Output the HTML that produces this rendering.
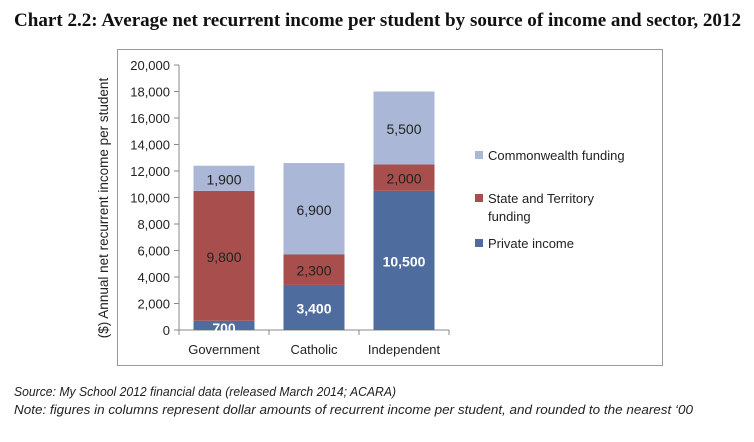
<!DOCTYPE html>
<html><head><meta charset="utf-8"><style>
body{margin:0;width:754px;height:437px;background:#fff;overflow:hidden;font-family:"Liberation Sans",sans-serif}
</style></head><body>
<svg width="754" height="437" font-family="Liberation Sans, sans-serif">
<text x="14" y="26" font-family="Liberation Serif, serif" font-weight="bold" font-size="18.5" textLength="727" lengthAdjust="spacingAndGlyphs" fill="#111">Chart 2.2: Average net recurrent income per student by source of income and sector, 2012</text>
<rect x="117.5" y="49.5" width="545" height="316" fill="none" stroke="#999"/>
<text transform="translate(108,208) rotate(-90)" text-anchor="middle" font-size="13.5" fill="#222">($) Annual net recurrent income per student</text>
<g id="plot"></g>
<text x="14" y="396" font-style="italic" font-size="12.5" textLength="382" lengthAdjust="spacingAndGlyphs" fill="#222">Source: My School 2012 financial data (released March 2014; ACARA)</text>
<text x="14" y="414" font-style="italic" font-size="13" textLength="679" lengthAdjust="spacingAndGlyphs" fill="#222">Note: figures in columns represent dollar amounts of recurrent income per student, and rounded to the nearest ‘00</text>
</svg>
<script>
const categories=["Government","Catholic","Independent"];
const privateIncome=[700,3400,10500];
const stateFunding=[9800,2300,2000];
const commonwealth=[1900,6900,5500];
const yTicks=[0,2000,4000,6000,8000,10000,12000,14000,16000,18000,20000];
const seriesNames=["Commonwealth funding","State and Territory funding","Private income"];
const NS="http://www.w3.org/2000/svg";
const g=document.getElementById('plot');
const x0=179,y0=330,yTop=65,bandW=90,barW=61;
function y(v){return y0-(v/20000)*(y0-yTop);}
function bx(i){return x0+bandW*i+bandW/2;}
function el(t,a,p){const e=document.createElementNS(NS,t);for(const k in a)e.setAttribute(k,a[k]);(p||g).appendChild(e);return e;}
const ax=el('line',{x1:x0,y1:yTop,x2:x0,y2:y0,stroke:'#888'});


yTicks.forEach(v=>{
  const tk=el('line',{x1:x0-5,x2:x0,y1:y(v),y2:y(v),stroke:'#888'});
  
  
  const t=el('text',{x:x0-9,y:y(v)+5,'text-anchor':'end','font-size':13,fill:'#222'});
  t.textContent=v.toLocaleString('en-US');
  
  
});
const xa=el('line',{x1:x0,y1:y0,x2:x0+bandW*categories.length,y2:y0,stroke:'#888'});


for(let i=0;i<=categories.length;i++){
  const tk=el('line',{x1:x0+bandW*i,x2:x0+bandW*i,y1:y0,y2:y0+5,stroke:'#888'});
  
  
}
const colors=["#4f6c9e","#a84f4d","#aab7d6"];
const txtCol=["#fff","#222","#222"];
categories.forEach((c,i)=>{
  const vals=[privateIncome[i],stateFunding[i],commonwealth[i]];
  let base=0;
  vals.forEach((v,s)=>{
    const r=el('rect',{x:bx(i)-barW/2,y:y(base+v),width:barW,height:y(base)-y(base+v),fill:colors[s]});
    
    
    const t=el('text',{x:bx(i),y:(y(base)+y(base+v))/2+6,'text-anchor':'middle','font-size':14,fill:txtCol[s],'font-weight':s==0?'bold':'normal'});
    if(v<1000)t.setAttribute('y',y0+3);
    t.textContent=v.toLocaleString('en-US');
    
    
    base+=v;
  });
  const l=el('text',{x:bx(i),y:y0+24,'text-anchor':'middle','font-size':13,fill:'#222'});
  l.textContent=c;
  
  
});
const legY=[155,198,243];const legC=["#aab7d6","#a84f4d","#4f6c9e"];
const legLines=[["Commonwealth funding"],["State and Territory","funding"],["Private income"]];
legLines.forEach((lines,i)=>{
  const r=el('rect',{x:475,y:legY[i]-4,width:8,height:8,fill:legC[i]});
  
  
  lines.forEach((ln,j)=>{
    const t=el('text',{x:488,y:legY[i]+5+j*18,'font-size':13,fill:'#222'});
    t.textContent=ln;
    
    
  });
});
</script>
</body></html>
